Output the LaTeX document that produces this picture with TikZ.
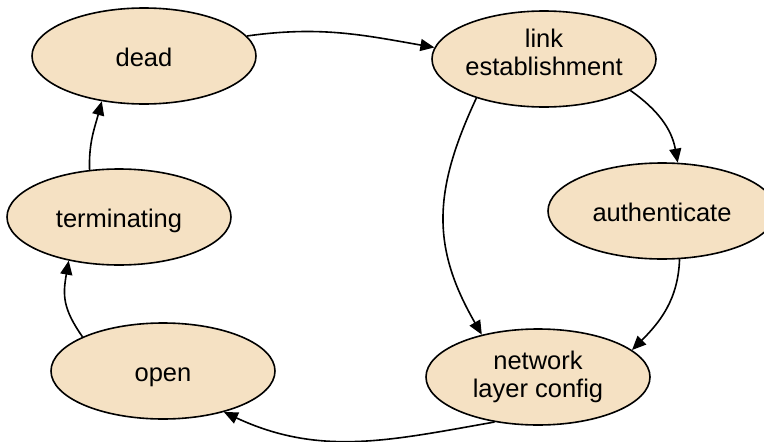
\documentclass[tikz,border=0pt]{standalone}
\usepackage{fontspec}
\setmainfont{Liberation Sans}
\usetikzlibrary{shapes.geometric,arrows.meta}
\definecolor{statefill}{HTML}{F5E1C3}
\begin{document}
\begin{tikzpicture}[x=1pt,y=-1pt,
  state/.style={ellipse,draw=black,line width=1.6pt,fill=statefill,
    minimum width=224pt,minimum height=96pt,inner sep=0pt,align=center,
    font=\fontsize{25.5}{27.5}\selectfont,text height=20pt,text depth=0pt},
  twoline/.style={text height=46pt,text depth=#1},
  trans/.style={line width=1.6pt,-{Triangle[length=14pt,width=12pt]}}]
\useasboundingbox (0,0) rectangle (764,442);
\node[state] (dead) at (144,56) {dead};
\node[state,twoline=14pt] (link) at (544,59) {link\\establishment};
\node[state,minimum width=228pt] (auth) at (662,211) {authenticate};
\node[state] (term) at (119,217) {terminating};
\node[state] (open) at (163,371) {open};
\node[state,twoline=6pt] (net) at (538,377) {network\\layer config};

\draw[trans] (dead.11) to[out=8,in=170] (link.174);
\draw[trans] (link.-20) to[out=-35,in=100] (auth.72);
\draw[trans] (link.210) to[out=-115,in=120,looseness=1.1] (net.143);
\draw[trans] (auth.-70) to[out=-92,in=45] (net.16);
\draw[trans] (net.226) to[out=190,in=-25] (open.-34);
\draw[trans] (open.157) to[out=125,in=-100,looseness=1.15] (term.221);
\draw[trans] (term.122) to[out=92,in=-105] (dead.227);
\end{tikzpicture}
\end{document}
